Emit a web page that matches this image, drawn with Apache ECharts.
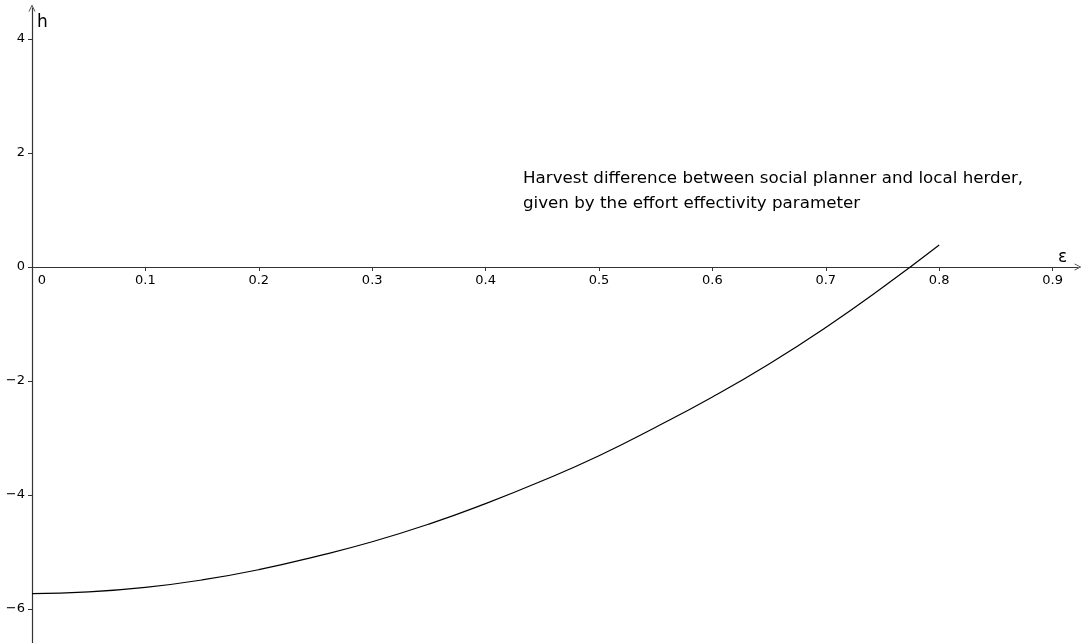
<!DOCTYPE html>
<html>
<head>
<meta charset="utf-8">
<script src="https://cdn.jsdelivr.net/npm/echarts@6/dist/echarts.min.js"></script>
<style>html,body{margin:0;padding:0;background:#fff;}#c{width:1081px;height:643px;}</style>
</head>
<body>
<div id="c"></div>
<script>
// Effort effectivity parameter (x) and harvest difference (y)
const epsilon = [0, 0.05, 0.1, 0.15, 0.2, 0.25, 0.3, 0.35, 0.4, 0.45, 0.5, 0.55, 0.6, 0.65, 0.7, 0.75, 0.8];
const harvestDiff = [-5.73, -5.70, -5.62, -5.49, -5.31, -5.08, -4.82, -4.51, -4.15, -3.75, -3.31, -2.81, -2.28, -1.70, -1.06, -0.36, 0.386];
const xTicks = [0, 0.1, 0.2, 0.3, 0.4, 0.5, 0.6, 0.7, 0.8, 0.9];
const yTicks = [-6, -4, -2, 0, 2, 4];
const annotation = ['Harvest difference between social planner and local herder,', 'given by the effort effectivity parameter'];

const FONT = 'DejaVu Sans';
const AXIS_COLOR = '#333';
const chevron = 'path://M0,10 L5,0 L10,10 L8.8,10 L5,2.4 L1.2,10 Z';
const Y_MIN = -6.596, Y_MAX = 4.544;
const H = 643, TOP = 8;

const chart = echarts.init(document.getElementById('c'), null, {renderer: 'canvas'});
// pixel offset that puts the x axis at h = 0
const plotH = H - TOP;
const zeroOffset = -plotH * (0 - Y_MIN) / (Y_MAX - Y_MIN);

chart.setOption({
  animation: false,
  backgroundColor: '#fff',
  grid: {left: 32, right: 3, top: TOP, bottom: 0, containLabel: false, outerBoundsMode: 'none'},
  title: [
    {text: 'h', left: 37, top: 14, padding: 0, textStyle: {fontFamily: FONT, fontSize: 17, fontWeight: 'normal', color: '#000'}},
    {text: 'ε', left: 1058, top: 249, padding: 0, textStyle: {fontFamily: FONT, fontSize: 17, fontWeight: 'normal', color: '#000'}},
    {text: annotation.join('\n'), left: 523, top: 166, padding: 0, textStyle: {fontFamily: FONT, fontSize: 16.7, fontWeight: 'normal', color: '#000', lineHeight: 25}}
  ],
  xAxis: {
    type: 'value', min: 0, max: 0.9224, position: 'bottom', offset: zeroOffset,
    axisLine: {show: true, onZero: false, lineStyle: {color: AXIS_COLOR, width: 1.2},
      symbol: ['none', chevron], symbolSize: [10, 7]},
    axisTick: {show: true, length: 4, customValues: xTicks.slice(1), lineStyle: {color: AXIS_COLOR}},
    axisLabel: {
      customValues: xTicks, margin: 7,
      fontFamily: FONT, fontSize: 13, color: '#000',
      formatter: function (v) { return v === 0 ? '{z|0}' : String(+v.toFixed(1)); },
      rich: {z: {padding: [0, 0, 0, 20], fontFamily: FONT, fontSize: 13, color: '#000'}}
    },
    splitLine: {show: false}
  },
  yAxis: {
    type: 'value', min: Y_MIN, max: Y_MAX,
    axisLine: {show: true, onZero: false, lineStyle: {color: AXIS_COLOR, width: 1.2},
      symbol: ['none', chevron], symbolSize: [10, 7]},
    axisTick: {show: true, length: 4, customValues: yTicks, lineStyle: {color: AXIS_COLOR}},
    axisLabel: {
      customValues: yTicks, margin: 7,
      fontFamily: FONT, fontSize: 13, color: '#000',
      formatter: function (v) { return v < 0 ? '\u2212' + Math.abs(v) : String(v); }
    },
    splitLine: {show: false}
  },
  series: [{
    type: 'line',
    data: epsilon.map((x, i) => [x, harvestDiff[i]]),
    smooth: true,
    showSymbol: false,
    lineStyle: {color: '#000', width: 1.2},
    clip: false
  }]
});
</script>
</body>
</html>
